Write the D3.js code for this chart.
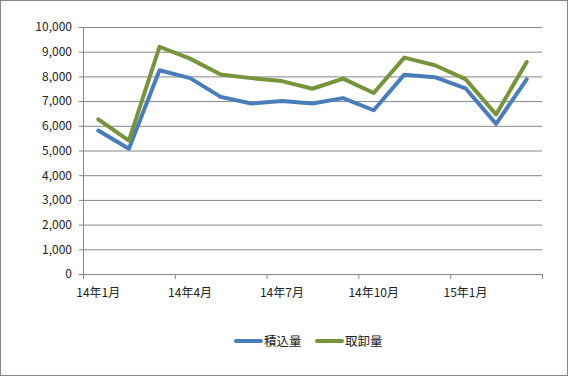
<!DOCTYPE html>
<html>
<head>
<meta charset="utf-8">
<script src="https://cdn.jsdelivr.net/npm/d3@7"></script>
<style>
  html, body { margin: 0; padding: 0; background: #fff; }
  svg { display: block; font-family: "Noto Sans CJK JP", "Noto Sans", sans-serif; }
</style>
</head>
<body>
<div id="chart"></div>
<script>
// Months Jan 2014 .. Mar 2015
const months = ["14年1月", "14年2月", "14年3月", "14年4月", "14年5月", "14年6月", "14年7月",
  "14年8月", "14年9月", "14年10月", "14年11月", "14年12月", "15年1月", "15年2月", "15年3月"];
const loading = [5810, 5070, 8250, 7930, 7170, 6900, 7000, 6900, 7120, 6630, 8070, 7970, 7520, 6080, 7880];   // 積込量
const unloading = [6260, 5400, 9200, 8720, 8080, 7930, 7810, 7500, 7910, 7330, 8760, 8450, 7890, 6460, 8580]; // 取卸量
const yTicks = [0, 1000, 2000, 3000, 4000, 5000, 6000, 7000, 8000, 9000, 10000];
const series = [
  { name: "積込量", values: loading, color: "#4A7EBB" },
  { name: "取卸量", values: unloading, color: "#77933C" }
];

const width = 568, height = 376;
const plot = { left: 83, right: 542, top: 27, bottom: 274 };
const gray = "#868686";

const svg = d3.select("#chart").append("svg")
  .attr("width", width).attr("height", height);

// outer frame
svg.append("rect")
  .attr("x", 0.5).attr("y", 0.5)
  .attr("width", width - 1).attr("height", height - 1)
  .attr("fill", "#fff").attr("stroke", gray);

const x = d3.scaleBand().domain(months).range([plot.left, plot.right]).padding(0);
const y = d3.scaleLinear().domain([0, 10000]).range([plot.bottom, plot.top]);

// gridlines + y axis ticks
const yAxis = svg.append("g")
  .attr("transform", `translate(${plot.left},0)`)
  .call(d3.axisLeft(y).tickValues(yTicks).tickFormat(d3.format(",")).tickSize(4).tickPadding(7));
yAxis.select(".domain").remove();
yAxis.selectAll(".tick line").attr("stroke", gray);
yAxis.selectAll(".tick").append("line")
  .attr("x1", 0).attr("x2", plot.right - plot.left)
  .attr("stroke", gray);
yAxis.selectAll("text").attr("font-size", 12).attr("fill", "#222")
  .attr("font-family", "'Noto Sans CJK JP', sans-serif");

// vertical axis line
svg.append("line")
  .attr("x1", plot.left + 0.5).attr("x2", plot.left + 0.5)
  .attr("y1", plot.top).attr("y2", plot.bottom)
  .attr("stroke", gray);

// x axis: ticks at every third month boundary, labels centred in the month
const tickIdx = d3.range(0, months.length + 1, 3);
const xg = svg.append("g");
xg.append("line")
  .attr("x1", plot.left).attr("x2", plot.right)
  .attr("y1", y(0) + 0.5).attr("y2", y(0) + 0.5)
  .attr("stroke", gray);
xg.selectAll(".xt").data(tickIdx).join("line")
  .attr("class", "xt")
  .attr("x1", i => (i < months.length ? x(months[i]) : plot.right) + 0.5)
  .attr("x2", i => (i < months.length ? x(months[i]) : plot.right) + 0.5)
  .attr("y1", y(0)).attr("y2", y(0) + 5)
  .attr("stroke", gray);
xg.selectAll(".xl").data(tickIdx.filter(i => i < months.length)).join("text")
  .attr("class", "xl")
  .attr("x", i => x(months[i]) + x.bandwidth() / 2)
  .attr("y", y(0) + 23)
  .attr("text-anchor", "middle")
  .attr("font-size", 12).attr("fill", "#222")
  .text(i => months[i]);

// lines
const line = d3.line()
  .x((d, i) => x(months[i]) + x.bandwidth() / 2)
  .y(d => y(d));
series.forEach(s => {
  svg.append("path")
    .datum(s.values)
    .attr("d", line)
    .attr("fill", "none")
    .attr("stroke", s.color)
    .attr("stroke-width", 4)
    .attr("stroke-linejoin", "round")
    .attr("stroke-linecap", "round");
});

// legend
const legend = svg.append("g").attr("transform", "translate(235,341)");
const offsets = [0, 81];
series.forEach((s, i) => {
  const g = legend.append("g").attr("transform", `translate(${offsets[i]},0)`);
  g.append("line").attr("x1", 1).attr("x2", 26)
    .attr("stroke", s.color).attr("stroke-width", 4).attr("stroke-linecap", "round");
  g.append("text").attr("x", 29).attr("y", 4.5)
    .attr("font-size", 12.5).attr("fill", "#222").text(s.name);
});
</script>
</body>
</html>
